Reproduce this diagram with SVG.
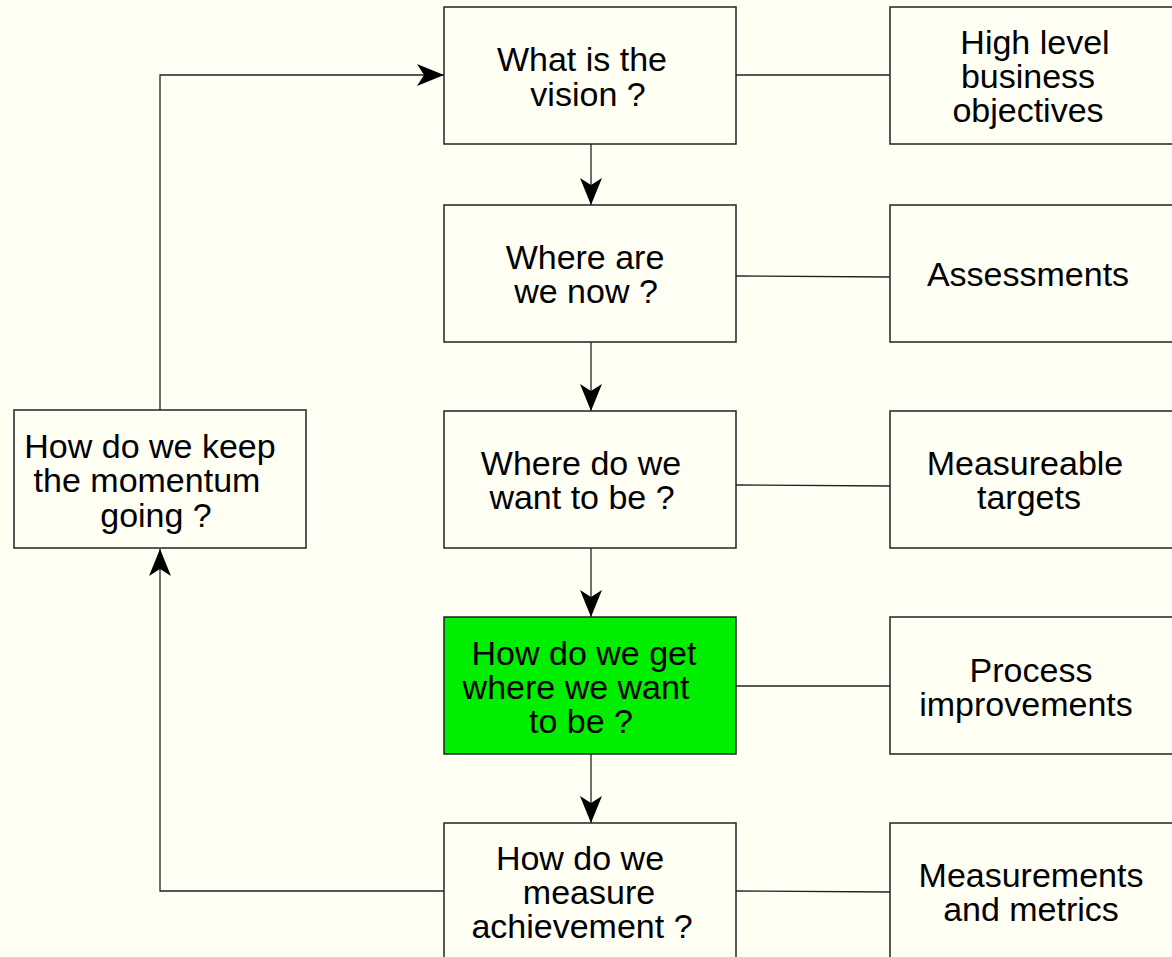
<svg xmlns="http://www.w3.org/2000/svg" width="1172" height="957" viewBox="0 0 1172 957">
<style>
.box{fill:#FFFFF4;stroke:#222;stroke-width:1.5}
.green{fill:#00EE00}
.t{font-family:"Liberation Sans",Arial,sans-serif;font-size:34px;fill:#000;text-anchor:middle}
.c{fill:none;stroke:#222;stroke-width:1.3}
</style>
<defs>
<marker id="ah" markerWidth="28" markerHeight="22" refX="27" refY="11" orient="auto" markerUnits="userSpaceOnUse">
<path d="M0,0 L27,11 L0,22 L7,11 Z" fill="#000"/>
</marker>
</defs>
<rect width="1172" height="957" fill="#FFFFF4"/>
<g id="connectors">
<line class="c" x1="591" y1="144" x2="591" y2="205" marker-end="url(#ah)"/>
<line class="c" x1="591" y1="342" x2="591" y2="411" marker-end="url(#ah)"/>
<line class="c" x1="591" y1="548" x2="591" y2="617" marker-end="url(#ah)"/>
<line class="c" x1="591" y1="754" x2="591" y2="823" marker-end="url(#ah)"/>
<line class="c" x1="736" y1="75" x2="890" y2="75"/>
<line class="c" x1="736" y1="276" x2="890" y2="277"/>
<line class="c" x1="736" y1="485" x2="890" y2="486"/>
<line class="c" x1="736" y1="686" x2="890" y2="686"/>
<line class="c" x1="736" y1="891" x2="890" y2="892"/>
<polyline class="c" points="444,891 160,891 160,549" marker-end="url(#ah)"/>
<polyline class="c" points="160,410 160,75 444,75" marker-end="url(#ah)"/>
</g>
<g id="n1"><rect class="box" x="444" y="7" width="292" height="137"/><text class="t"><tspan x="582" y="71">What is the</tspan><tspan x="588" y="106">vision ?</tspan></text></g>
<g id="n2"><rect class="box" x="444" y="205" width="292" height="137"/><text class="t"><tspan x="585" y="269">Where are</tspan><tspan x="586" y="303">we now ?</tspan></text></g>
<g id="n3"><rect class="box" x="444" y="411" width="292" height="137"/><text class="t"><tspan x="581" y="475">Where do we</tspan><tspan x="582" y="509">want to be ?</tspan></text></g>
<g id="n4"><rect class="box green" x="444" y="617" width="292" height="137"/><text class="t"><tspan x="584" y="665">How do we get</tspan><tspan x="576" y="699">where we want</tspan><tspan x="581" y="733">to be ?</tspan></text></g>
<g id="n5"><rect class="box" x="444" y="823" width="292" height="140"/><text class="t"><tspan x="580" y="870">How do we</tspan><tspan x="589" y="904">measure</tspan><tspan x="582" y="938">achievement ?</tspan></text></g>
<g id="r1"><rect class="box" x="890" y="7" width="290" height="137"/><text class="t"><tspan x="1035" y="54">High level</tspan><tspan x="1028" y="88">business</tspan><tspan x="1028" y="122">objectives</tspan></text></g>
<g id="r2"><rect class="box" x="890" y="205" width="290" height="137"/><text class="t"><tspan x="1028" y="286">Assessments</tspan></text></g>
<g id="r3"><rect class="box" x="890" y="411" width="290" height="137"/><text class="t"><tspan x="1025" y="475">Measureable</tspan><tspan x="1029" y="509">targets</tspan></text></g>
<g id="r4"><rect class="box" x="890" y="617" width="290" height="137"/><text class="t"><tspan x="1031" y="682">Process</tspan><tspan x="1026" y="716">improvements</tspan></text></g>
<g id="r5"><rect class="box" x="890" y="823" width="290" height="140"/><text class="t"><tspan x="1031" y="887">Measurements</tspan><tspan x="1031" y="921">and metrics</tspan></text></g>
<g id="left"><rect class="box" x="14" y="410" width="292" height="138"/><text class="t"><tspan x="150" y="458">How do we keep</tspan><tspan x="147" y="492">the momentum</tspan><tspan x="156" y="527">going ?</tspan></text></g>
</svg>
